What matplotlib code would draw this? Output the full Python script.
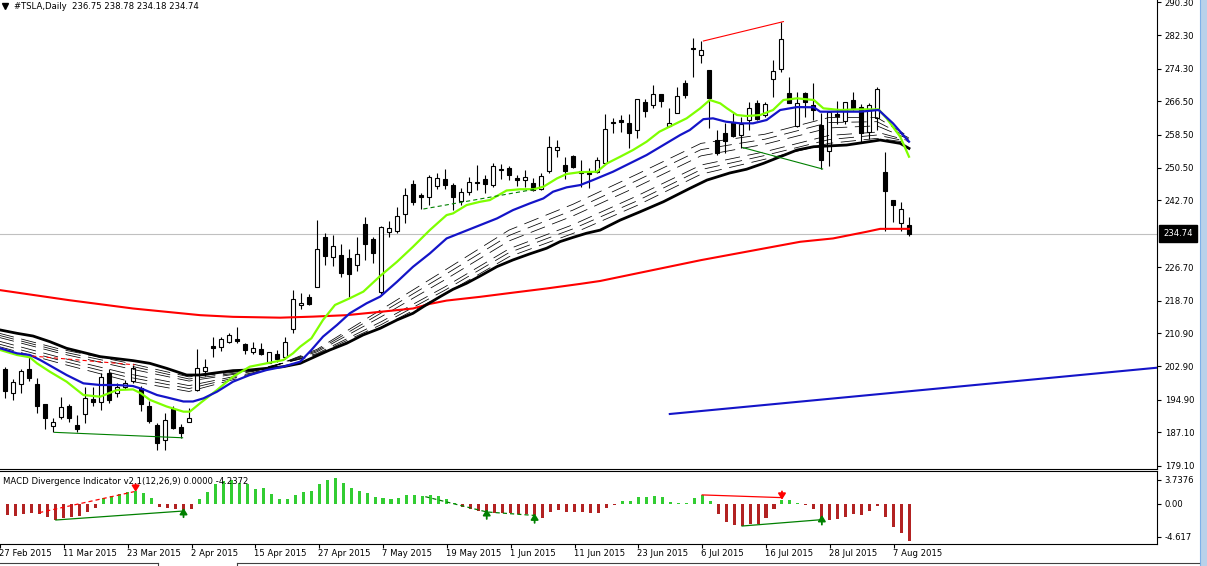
import matplotlib
matplotlib.use('Agg')
import matplotlib.pyplot as plt
from matplotlib.transforms import blended_transform_factory as blend
from matplotlib.patches import Rectangle
from matplotlib.lines import Line2D

plt.rcParams['font.family'] = ['DejaVu Sans']
plt.rcParams['lines.scale_dashes'] = False

# ---------------- data ----------------
symbol_title = '#TSLA,Daily  236.75 238.78 234.18 234.74'
macd_title = 'MACD Divergence Indicator v2.1(12,26,9) 0.0000 -4.2372'
last_price = 234.74

date_tick_pos = [0, 8, 16, 24, 32, 40, 48, 56, 64, 72, 80, 88, 96, 104, 112]
date_tick_labels = ['27 Feb 2015', '11 Mar 2015', '23 Mar 2015', '2 Apr 2015', '15 Apr 2015',
                    '27 Apr 2015', '7 May 2015', '19 May 2015', '1 Jun 2015', '11 Jun 2015',
                    '23 Jun 2015', '6 Jul 2015', '16 Jul 2015', '28 Jul 2015', '7 Aug 2015']
price_ticks = [290.30, 282.30, 274.30, 266.50, 258.50, 250.50, 242.70,
               226.70, 218.70, 210.90, 202.90, 194.90, 187.10, 179.10]
macd_max, macd_min = 3.7376, -4.617
macd_label_vals = [2.71, 0.0, -3.81]
macd_label_txt = ['3.7376', '0.00', '-4.617']

bar_idx = list(range(1, 115))
opens = [202.3, 196.5, 198.7, 202.3, 198.7, 193.9, 188.6, 190.7, 193.4, 188.9,
         191.4, 195.2, 194.3, 201.4, 196.5, 197.9, 199.4, 197.7, 193.4, 188.8,
         185.3, 192.6, 188.5, 189.5, 197.3, 201.7, 207.8, 207.5, 208.85, 209.4,
         208.3, 206.45, 207.0, 203.8, 206.0, 205.25, 212.0, 217.56, 219.6, 222.0,
         233.9, 229.1, 229.6, 228.9, 227.3, 237.1, 233.45, 220.7, 235.1, 235.3,
         239.5, 246.7, 244.0, 243.6, 246.2, 247.8, 246.4, 242.5, 244.7, 247.1,
         247.8, 246.4, 250.2, 250.4, 248.0, 247.55, 246.9, 245.5, 249.85, 254.8,
         251.2, 253.4, 249.85, 249.6, 249.6, 251.6, 261.6, 262.0, 261.2, 259.5,
         266.2, 265.6, 268.2, 260.6, 263.6, 270.8, 279.2, 277.7, 274.0, 257.2,
         258.8, 261.6, 258.5, 262.0, 266.0, 263.2, 271.75, 274.15, 268.55, 260.6,
         268.55, 265.6, 260.8, 254.65, 263.4, 261.8, 266.8, 265.2, 259.2, 262.6,
         249.45, 242.8, 237.4, 236.75]
highs = [202.85, 199.8, 202.3, 205.3, 200.1, 194.0, 190.5, 195.5, 193.9, 191.3,
         197.9, 197.9, 201.4, 202.4, 199.0, 199.7, 203.3, 198.1, 194.5, 189.3,
         191.7, 193.3, 189.1, 192.9, 207.2, 204.6, 210.05, 210.05, 210.85, 212.3,
         208.6, 208.85, 208.45, 206.45, 206.8, 210.05, 221.2, 220.6, 220.3, 238.0,
         234.8, 234.4, 232.3, 231.1, 233.9, 238.8, 233.9, 236.6, 237.8, 241.2,
         245.7, 247.6, 244.6, 248.8, 249.3, 250.2, 246.8, 245.6, 248.3, 251.2,
         248.8, 251.6, 251.4, 251.0, 248.8, 249.95, 248.0, 249.2, 258.2, 257.2,
         253.2, 253.6, 252.4, 250.4, 253.2, 263.4, 262.6, 263.2, 263.4, 267.0,
         267.0, 270.4, 268.2, 265.0, 270.0, 271.7, 281.6, 281.0, 274.0, 259.6,
         261.2, 263.6, 262.8, 266.4, 266.8, 266.2, 276.5, 285.6, 272.4, 268.8,
         268.8, 270.8, 263.6, 264.0, 266.6, 266.2, 268.8, 265.8, 266.0, 270.0,
         254.25, 242.8, 242.3, 238.78]
lows = [195.3, 194.9, 196.6, 199.4, 191.7, 187.8, 187.1, 190.2, 189.7, 187.1,
        189.4, 193.4, 192.5, 194.1, 195.5, 197.4, 198.9, 192.1, 189.4, 182.9,
        182.9, 188.0, 185.7, 189.5, 196.9, 200.5, 205.1, 206.7, 208.45, 208.45,
        205.9, 205.9, 205.65, 203.65, 204.0, 204.6, 211.0, 216.6, 217.6, 222.0,
        227.2, 227.1, 224.4, 219.6, 225.8, 228.5, 227.6, 220.2, 233.9, 234.9,
        237.3, 241.5, 240.6, 241.6, 245.5, 245.5, 240.4, 241.6, 244.0, 245.1,
        244.5, 246.0, 247.8, 247.6, 246.1, 246.0, 244.95, 245.2, 249.2, 253.2,
        247.8, 250.4, 246.0, 245.6, 249.2, 251.6, 259.0, 259.2, 255.2, 257.8,
        262.8, 265.0, 265.2, 260.4, 263.6, 267.2, 272.4, 275.6, 260.0, 253.6,
        254.0, 258.0, 255.4, 259.6, 262.0, 262.8, 267.4, 273.6, 266.0, 260.4,
        262.8, 262.0, 250.2, 251.0, 261.0, 261.0, 264.4, 256.8, 257.4, 259.6,
        235.5, 237.6, 235.5, 234.18]
closes = [196.9, 199.2, 201.9, 200.2, 193.4, 190.5, 189.7, 193.1, 190.5, 188.0,
          195.3, 194.4, 200.3, 194.9, 197.9, 199.0, 202.6, 193.8, 189.9, 184.5,
          190.1, 188.2, 187.0, 190.5, 202.45, 202.85, 207.25, 209.4, 210.45, 209.1,
          206.85, 207.25, 205.9, 206.3, 204.6, 208.85, 219.0, 218.04, 217.8, 231.0,
          229.5, 231.7, 225.4, 225.1, 229.9, 232.3, 230.0, 236.3, 236.0, 239.0,
          244.0, 242.4, 243.55, 248.3, 248.0, 246.4, 243.55, 244.8, 247.05, 246.85,
          246.7, 251.0, 249.9, 248.8, 247.7, 248.3, 245.15, 248.5, 255.6, 255.45,
          249.85, 250.8, 249.2, 249.05, 252.4, 259.8, 261.4, 261.6, 259.0, 267.0,
          264.2, 268.2, 266.6, 261.4, 267.8, 268.0, 279.0, 278.8, 267.2, 254.2,
          257.05, 258.25, 261.0, 265.0, 262.2, 265.8, 273.8, 281.35, 266.15, 266.0,
          266.4, 264.4, 252.4, 264.0, 263.0, 266.2, 265.0, 258.96, 265.6, 269.4,
          245.05, 241.6, 240.6, 234.74]

macd = [-1.30, -1.41, -1.22, -1.11, -1.22, -1.56, -1.87, -1.60, -1.49, -1.41,
        -0.92, -0.46, 0.69, 0.92, 1.07, 1.37, 1.45, 1.26, 0.61, -0.34,
        -0.53, -0.65, -0.73, -0.65, 0.50, 1.37, 2.21, 2.60, 2.71, 2.40,
        2.21, 1.68, 1.83, 1.15, 0.50, 0.50, 0.99, 1.30, 1.45, 2.29,
        2.75, 2.98, 2.40, 1.83, 1.49, 1.26, 0.80, 0.69, 0.57, 0.69,
        1.03, 1.03, 0.92, 1.03, 0.92, 0.57, 0.11, -0.42, -0.65, -0.84,
        -1.11, -1.03, -1.03, -1.03, -1.22, -1.22, -1.30, -1.60, -0.99, -0.76,
        -0.92, -0.99, -0.99, -1.11, -1.11, -0.53, -0.10, 0.34, 0.34, 0.80,
        0.80, 0.92, 0.80, 0.23, 0.11, 0.11, 0.69, 1.03, 0.34, -1.22,
        -2.06, -2.48, -2.60, -2.33, -2.29, -1.68, -0.65, 0.46, 0.46, 0.11,
        -0.19, -0.65, -1.98, -1.87, -1.79, -1.56, -1.22, -1.34, -0.88, -0.31,
        -1.56, -2.71, -3.40, -4.2372]

green_i = [0.4, 2.5, 4.1, 5.0, 6.6, 8.7, 10.8, 12.9, 15.0, 17.0, 18.0, 19.1, 21.2, 23.3, 24.1,
           25.4, 27.5, 29.5, 31.6, 33.7, 35.8, 37.0, 37.9, 39.3, 40.75, 42.25, 44.1, 45.8, 47.9,
           50.0, 52.0, 54.1, 56.2, 57.0, 58.7, 60.4, 61.6, 63.7, 65.4, 67.1, 68.3, 70.0, 71.2,
           72.9, 75.0, 76.25, 77.9, 79.5, 81.2, 82.8, 84.5, 86.2, 87.9, 89.1, 90.4, 91.25, 92.5,
           93.7, 95.4, 97.0, 98.3, 100.0, 102.1, 103.3, 105.4, 107.4, 110.2, 111.2, 112.9, 114.0]
green_v = [206.85, 205.65, 205.1, 203.65, 201.65, 199.25, 196.05, 195.65, 197.25, 197.4, 196.45,
           194.9, 193.3, 192.06, 192.06, 194.1, 197.25, 200.45, 202.85, 203.65, 204.45, 206.05,
           207.65, 209.65, 214.05, 217.65, 219.25, 220.85, 224.6, 228.0, 231.6, 235.6, 239.2,
           239.6, 241.6, 242.4, 242.8, 245.1, 245.4, 245.4, 246.0, 248.0, 249.05, 249.5, 249.6,
           251.6, 253.2, 254.8, 256.8, 259.2, 260.8, 262.4, 264.8, 266.8, 266.0, 264.8, 263.2,
           262.95, 263.2, 264.4, 266.8, 267.2, 266.8, 264.8, 264.4, 264.55, 264.55, 262.4,
           258.0, 253.2]
blue_i = [0.4, 2.5, 4.1, 5.4, 8.7, 10.8, 12.9, 15.0, 17.0, 18.3, 20.0, 21.2, 23.3, 24.5, 25.8,
          27.5, 29.5, 31.6, 33.7, 35.8, 37.9, 39.3, 40.75, 42.5, 44.1, 46.2, 47.9, 50.0, 52.0,
          54.1, 56.2, 58.3, 60.4, 62.5, 64.5, 66.6, 68.3, 69.5, 71.2, 72.9, 74.5, 77.0, 79.1,
          81.2, 83.3, 85.4, 86.6, 88.3, 89.5, 91.1, 92.9, 94.5, 96.2, 97.9, 100.0, 102.1, 102.9,
          107.9, 110.2, 112.0, 114.0]
blue_v = [207.25, 206.05, 205.65, 204.45, 200.85, 198.85, 198.45, 198.45, 198.2, 197.4, 196.05,
          195.5, 194.5, 194.5, 195.25, 196.85, 199.25, 200.85, 202.05, 202.85, 204.05, 206.85,
          210.05, 212.85, 215.65, 218.05, 219.65, 223.2, 226.8, 230.0, 233.6, 235.2, 236.8,
          238.4, 240.4, 242.0, 243.2, 244.8, 245.85, 246.4, 247.6, 249.6, 251.6, 253.6, 256.0,
          258.4, 259.6, 262.2, 262.4, 261.6, 261.2, 261.2, 262.0, 264.4, 265.1, 265.05, 264.0,
          264.0, 264.4, 261.2, 256.8]
black_i = [0.4, 2.5, 4.5, 6.6, 8.7, 12.9, 17.0, 19.1, 21.2, 23.7, 25.4, 27.5, 29.5, 31.6, 33.7,
           35.8, 37.9, 41.6, 43.7, 45.75, 47.9, 50.0, 52.0, 53.3, 55.4, 57.0, 58.7, 60.4, 62.5,
           64.5, 66.6, 68.7, 70.4, 72.0, 73.7, 75.4, 77.9, 80.4, 83.3, 86.6, 88.75, 91.6, 93.7,
           95.8, 97.9, 100.0, 102.1, 106.2, 110.4, 112.9, 114.0]
black_v = [211.65, 210.85, 210.2, 208.85, 207.25, 205.25, 204.3, 203.65, 202.45, 200.85, 200.85,
           201.4, 201.9, 202.05, 202.45, 202.85, 203.65, 206.85, 208.45, 210.45, 212.05, 214.05,
           215.65, 217.25, 219.65, 221.4, 222.85, 224.6, 226.85, 228.45, 229.9, 231.25, 232.85,
           233.85, 234.85, 235.6, 238.0, 240.0, 242.4, 245.6, 247.6, 249.3, 250.2, 251.6, 253.2,
           254.8, 255.6, 256.0, 257.2, 256.4, 255.2]
red_i = [0.4, 9.0, 17.0, 25.4, 29.5, 35.4, 39.5, 43.7, 47.9, 52.0, 54.1, 56.2, 60.4, 64.5, 68.7,
         72.9, 75.4, 88.0, 100.4, 104.5, 108.7, 110.4, 114.0]
red_v = [221.2, 218.8, 216.8, 215.2, 214.8, 214.6, 214.85, 215.2, 216.0, 216.8, 217.9, 218.7,
         219.6, 220.6, 221.6, 222.7, 223.4, 228.4, 232.8, 233.6, 235.2, 235.9, 235.9]

rib_i = [0, 8, 16, 24, 32, 40, 48, 56, 64, 72, 80, 88, 96, 104, 110, 114]
rib1 = [211.0, 207.0, 203.9, 200.4, 202.0, 205.6, 212.3, 220.3, 229.2, 234.8, 241.5, 249.0, 252.6, 256.4, 257.6, 256.6]
rib2 = [210.5, 206.5, 203.3, 199.9, 201.8, 205.8, 212.9, 221.2, 230.2, 235.9, 242.6, 250.1, 253.5, 257.3, 258.4, 256.8]
rib3 = [210.0, 206.0, 202.6, 199.4, 201.7, 206.0, 213.6, 222.0, 231.1, 236.9, 243.8, 251.2, 254.4, 258.3, 259.1, 257.0]
rib4 = [209.1, 205.0, 201.3, 198.3, 201.4, 206.4, 214.8, 223.7, 233.0, 239.0, 246.0, 253.4, 256.2, 260.1, 260.6, 257.4]
rib5 = [208.4, 204.3, 200.5, 197.6, 201.2, 206.7, 215.7, 224.9, 234.3, 240.4, 247.5, 254.9, 257.4, 261.4, 261.6, 257.7]
rib6 = [207.8, 203.6, 199.6, 196.9, 201.0, 207.0, 216.5, 226.0, 235.6, 241.8, 249.0, 256.4, 258.6, 262.6, 262.6, 258.0]

trend_i = [84.1, 145.0]
trend_v = [191.5, 202.6]

# price-chart divergence lines: (x list, y list, color, dashed)
price_div = [([7.2, 23.2], [187.1, 185.8], '#008000', False),
             ([4.4, 17.2], [205.4, 203.3], '#FF0000', True),
             ([53.3, 67.25], [240.66, 245.4], '#008000', True),
             ([88.3, 98.3], [280.95, 285.6], '#FF0000', False),
             ([93.2, 103.2], [255.4, 250.25], '#008000', False)]
macd_div = [([4.9, 16.8], [-1.03, 1.37], '#FF0000', True),
            ([7.0, 23.0], [-1.87, -0.84], '#008000', False),
            ([53.3, 61.0, 67.0], [0.8, -0.95, -1.35], '#008000', True),
            ([88.0, 98.0], [1.0, 0.69], '#FF0000', False),
            ([93.0, 103.0], [-2.56, -1.83], '#008000', False)]
# arrows: (bar, tail value, tip value, color)
macd_arrows = [(17, 2.25, 1.35, '#FF0000'), (23, -1.55, -0.5, '#008000'),
               (61, -1.75, -0.62, '#008000'), (67, -2.2, -1.12, '#008000'),
               (98, 1.40, 0.45, '#FF0000'), (103, -2.4, -1.3, '#008000')]

# ---------------- layout ----------------
W, H = 1207, 566
MAIN_BOTTOM, MACD_TOP, MACD_BOTTOM, PLOT_RIGHT = 469, 471, 544, 1157
FS = 6.1


def fx(x):
    return x / W


def fy(y):
    return 1 - y / H


def price_at(y):
    return 290.3 - (y - 2) / 4.17


fig = plt.figure(figsize=(W / 100, H / 100), dpi=100)
fig.patch.set_facecolor('white')

ax = fig.add_axes([0, fy(MAIN_BOTTOM), fx(PLOT_RIGHT), MAIN_BOTTOM / H])
ax2 = fig.add_axes([0, fy(MACD_BOTTOM), fx(PLOT_RIGHT), (MACD_BOTTOM - MACD_TOP) / H])
xlim = (3 / 8, (PLOT_RIGHT + 3) / 8)
for a in (ax, ax2):
    a.set_xlim(*xlim)
    a.spines['left'].set_visible(False)
    a.spines['right'].set_linewidth(0.8)
    a.spines['bottom'].set_linewidth(0.8)
    a.spines['top'].set_linewidth(0.8)
    a.set_facecolor('white')
ax.spines['top'].set_visible(False)
ax.set_ylim(price_at(MAIN_BOTTOM), price_at(0))
ax2.set_ylim(macd_min, macd_max)

# price axis
ax.set_xticks([])
ax.yaxis.tick_right()
ax.set_yticks(price_ticks)
ax.set_yticklabels(['%.2f' % p for p in price_ticks])
ax.tick_params(axis='y', length=3, width=0.8, pad=2.5, labelsize=FS)

# current price line and box
ax.axhline(last_price, color='#C0C0C0', lw=0.8, zorder=0.5)
ax.text(1 + 6 / PLOT_RIGHT, last_price, '%.2f' % last_price, transform=blend(ax.transAxes, ax.transData),
        ha='left', va='center', color='white', fontsize=FS, clip_on=False,
        bbox=dict(boxstyle='square,pad=0.5', fc='black', ec='black'))

# candles
body_bot = [min(o, c) for o, c in zip(opens, closes)]
body_h = [max(abs(c - o), 0.15) for o, c in zip(opens, closes)]
body_col = ['white' if c >= o else 'black' for o, c in zip(opens, closes)]
ax.vlines(bar_idx, lows, highs, color='black', lw=0.8, zorder=2)
ax.bar(bar_idx, body_h, bottom=body_bot, width=0.5, color=body_col, edgecolor='black',
       linewidth=0.8, zorder=3)

# ribbon (thin dashed lines)
for r in (rib1, rib2, rib3, rib4, rib5, rib6):
    ax.plot(rib_i, r, color='black', lw=0.55, linestyle=(0, (11, 5.5)), zorder=4)

ax.plot(red_i, red_v, color='#FF0000', lw=1.5, zorder=4.5)
ax.plot(black_i, black_v, color='black', lw=2.0, zorder=4.6)
ax.plot(green_i, green_v, color='#7FFF00', lw=1.6, zorder=5)
ax.plot(blue_i, blue_v, color='#1414C8', lw=1.6, zorder=5.2)
ax.plot(trend_i, trend_v, color='#1414C8', lw=1.5, zorder=5, clip_on=True)

for xs, ys, col, dashed in price_div:
    ax.plot(xs, ys, color=col, lw=0.8, zorder=6,
            linestyle=(0, (3, 2.2)) if dashed else '-')

# MACD histogram
hist_col = ['#32CD32' if v > 0 else '#B22222' for v in macd]
ax2.bar(bar_idx, macd, width=0.38, color=hist_col, linewidth=0, zorder=2)
for xs, ys, col, dashed in macd_div:
    ax2.plot(xs, ys, color=col, lw=0.9, zorder=3,
             linestyle=(0, (3, 2.2)) if dashed else '-')
for bi, tail, tip, col in macd_arrows:
    ax2.annotate('', xy=(bi, tip), xytext=(bi, tail), zorder=4,
                 arrowprops=dict(arrowstyle='-|>,head_width=0.22,head_length=0.35',
                                 color=col, lw=1.3, shrinkA=0, shrinkB=0))

ax2.yaxis.tick_right()
ax2.set_yticks(macd_label_vals)
ax2.set_yticklabels(macd_label_txt)
ax2.tick_params(axis='y', length=3, width=0.8, pad=2.5, labelsize=FS)
ax2.set_xticks(date_tick_pos)
ax2.tick_params(axis='x', length=3, width=0.8, labelbottom=False)
tr = blend(ax2.transData, ax2.transAxes)
for p, lbl in zip(date_tick_pos, date_tick_labels):
    ax2.text(p - 1 / 8, -9.5 / (MACD_BOTTOM - MACD_TOP), lbl, transform=tr, ha='left', va='center',
             fontsize=FS, clip_on=False)

# texts
fig.text(fx(14), fy(6.5), symbol_title, ha='left', va='center', fontsize=FS)
fig.add_artist(Line2D([fx(5)], [fy(5.5)], marker='v', ms=4.5, color='black', mec='black'))
fig.text(fx(3), fy(481), macd_title, ha='left', va='center', fontsize=FS)

# window frame
fig.add_artist(Rectangle((fx(1200), 0), fx(7), 1, transform=fig.transFigure, fc='#B9D1EA', ec='none'))
fig.add_artist(Line2D([fx(1199.5), fx(1199.5)], [0, 1], color='#7FB0E8', lw=0.8))
fig.add_artist(Line2D([0, fx(158)], [fy(563), fy(563)], color='#404040', lw=0.8))
fig.add_artist(Line2D([fx(237), fx(1199)], [fy(563), fy(563)], color='#404040', lw=0.8))
fig.add_artist(Line2D([fx(158), fx(158)], [fy(563), 0], color='#404040', lw=0.8))
fig.add_artist(Line2D([fx(237), fx(237)], [fy(563), 0], color='#404040', lw=0.8))

fig.savefig('out.png', dpi=100, facecolor='white')
